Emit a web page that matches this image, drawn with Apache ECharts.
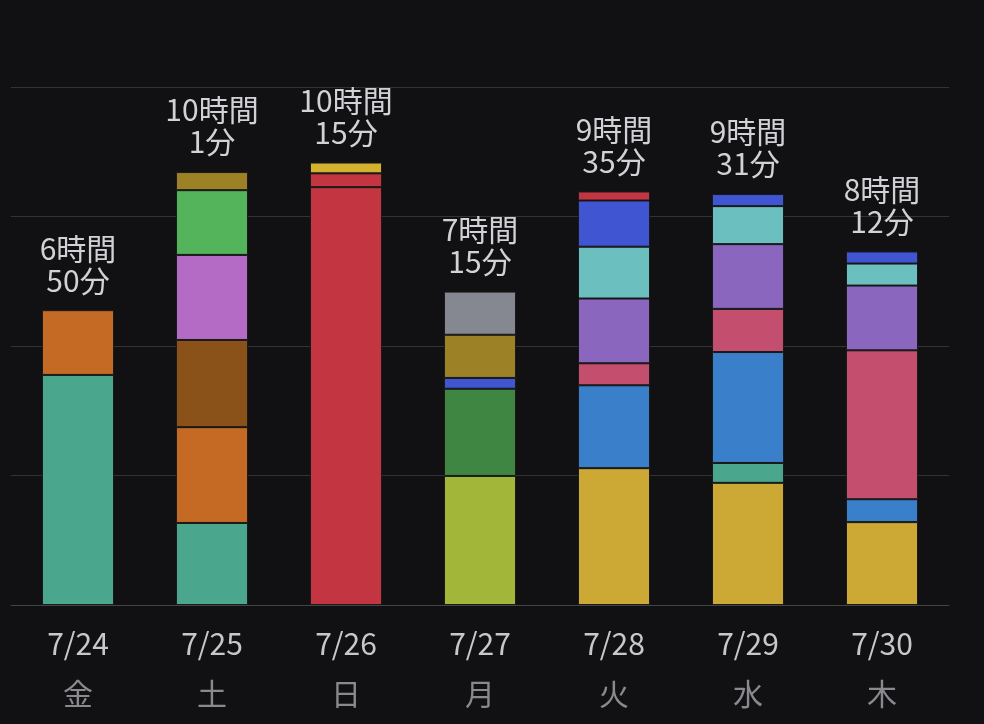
<!DOCTYPE html>
<html><head><meta charset="utf-8">
<script src="https://cdn.jsdelivr.net/npm/echarts@6/dist/echarts.min.js"></script>
<style>html,body{margin:0;background:#111113;}#c{width:984px;height:724px;}</style>
</head><body><div id="c"></div>
<script>
const dates = ['7/24','7/25','7/26','7/27','7/28','7/29','7/30'];
const weekdays = ['金','土','日','月','火','水','木'];
const totalLabels = ['6時間\n50分','10時間\n1分','10時間\n15分','7時間\n15分','9時間\n35分','9時間\n31分','8時間\n12分'];
// segment hours per day, bottom to top
const seg0724 = [5.33, 1.5];
const seg0725 = [1.9, 2.22, 2.02, 1.97, 1.5, 0.42];
const seg0726 = [9.68, 0.32, 0.25];
const seg0727 = [2.99, 2.02, 0.25, 1.0, 1.0];
const seg0728 = [3.17, 1.92, 0.51, 1.5, 1.2, 1.07, 0.21];
const seg0729 = [2.83, 0.46, 2.57, 1.0, 1.5, 0.88, 0.28];
const seg0730 = [1.92, 0.53, 3.45, 1.5, 0.51, 0.28];
const segs = [seg0724, seg0725, seg0726, seg0727, seg0728, seg0729, seg0730];
const col = [
 ['#4aa68c','#c56a25'],
 ['#4aa68c','#c56a25','#8a5219','#b36bc6','#53b45b','#9c8126'],
 ['#c33540','#c33540','#d4b12f'],
 ['#a2b73a','#3f8642','#3f55d2','#9c8126','#858890'],
 ['#cba934','#3a7fc9','#c44e6d','#8a66bf','#6cbfbf','#3f55d2','#c33540'],
 ['#cba934','#4aa68c','#3a7fc9','#c44e6d','#8a66bf','#6cbfbf','#3f55d2'],
 ['#cba934','#3a7fc9','#c44e6d','#8a66bf','#6cbfbf','#3f55d2']
];
const series = [];
for (let L = 0; L < 7; L++) {
  series.push({type:'bar', stack:'s', barWidth:72,
    data: segs.map((s,d)=> s[L]!=null ? {value:s[L], itemStyle:{color:col[d][L]}} : null),
    itemStyle:{borderColor:'#1a1a1a', borderWidth:1}});
}
series.push({type:'bar', stack:'s', barWidth:72, data: dates.map(()=>0),
  label:{show:true, position:'top', distance:14, color:'#d2d2d6', fontSize:30, lineHeight:32,
    fontFamily:'Noto Sans CJK JP', formatter:p=>totalLabels[p.dataIndex]}});
const chart = echarts.init(document.getElementById('c'));
chart.setOption({
  backgroundColor:'#111113', animation:false,
  grid:{left:11, right:35, top:87, bottom:119},
  xAxis:{type:'category', data:dates, axisTick:{show:false},
    axisLine:{lineStyle:{color:'#444'}},
    axisLabel:{margin:14, formatter:(v,i)=>'{d|'+v+'}\n{w|'+weekdays[i]+'}',
      rich:{d:{color:'#c8c8cc',fontSize:30,lineHeight:50,fontFamily:'Noto Sans CJK JP'},
            w:{color:'#8a8a8e',fontSize:30,lineHeight:50,fontFamily:'Noto Sans CJK JP'}}}},
  yAxis:{type:'value', min:0, max:12, interval:3, axisLabel:{show:false},
    splitLine:{lineStyle:{color:'#333336'}}},
  series
});
</script></body></html>
